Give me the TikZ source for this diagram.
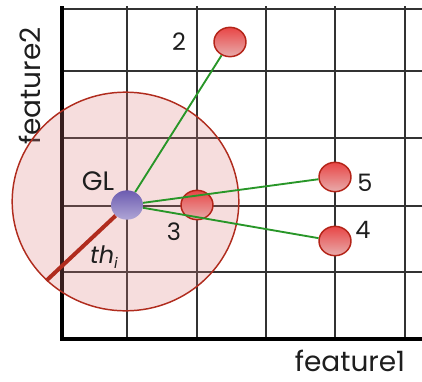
\documentclass[tikz,border=0pt]{standalone}
\usepackage{fontspec}
\setmainfont{Poppins}
\usetikzlibrary{shapes.geometric}

\definecolor{gridgray}{RGB}{50,50,50}
\definecolor{zonered}{RGB}{176,44,30}
\definecolor{zonefill}{RGB}{220,120,120}
\definecolor{linkgreen}{RGB}{40,150,40}
\definecolor{ptborder}{RGB}{180,36,24}
\definecolor{pttop}{RGB}{232,70,70}
\definecolor{ptbottom}{RGB}{232,172,172}
\definecolor{gltop}{RGB}{108,92,176}
\definecolor{glbottom}{RGB}{176,166,214}
\definecolor{txt}{RGB}{30,30,30}

\begin{document}
\begin{tikzpicture}[
    x=0.75pt, y=-0.75pt,
    point/.style={ellipse, draw=ptborder, line width=1.1pt, top color=pttop, bottom color=ptbottom, minimum width=24pt, minimum height=22pt, inner sep=0pt},
    leader/.style={ellipse, top color=gltop, bottom color=glbottom, minimum width=24pt, minimum height=22pt, inner sep=0pt},
    zone/.style={ellipse, draw=zonered, line width=1.1pt, fill=zonefill, fill opacity=0.25, minimum width=170pt, minimum height=164pt, inner sep=0pt},
    link/.style={draw=linkgreen, line width=1.4pt},
    tag/.style={font=\fontsize{18}{18}\selectfont, text=txt, inner sep=0pt}
]
\useasboundingbox (0,0) rectangle (422,382);

% Grid
\foreach \gx in {127,197,266,335,405}
  \draw[gridgray, line width=1.1pt] (\gx,6) -- (\gx,339);
\foreach \gy in {9,71,138,206,272}
  \draw[gridgray, line width=1.1pt] (62,\gy) -- (422,\gy);

% Axes
\draw[black, line width=3pt] (62,6) -- (62,339) -- (422,339);
\node[tag, font=\fontsize{21}{21}\selectfont, rotate=90] (feat2) at (30,86) {feature2};
\node[tag, font=\fontsize{21}{21}\selectfont] (feat1) at (350,361) {feature1};

% Threshold zone
\node[zone] (zone) at (125.5,201.5) {};

% Points
\node[leader] (gl) at (127,205) {};
\node[point] (p2) at (230,42) {};
\node[point] (p3) at (197,205) {};
\node[point] (p5) at (335,177) {};
\node[point] (p4) at (335,241) {};

% Labels
\node[tag, font=\fontsize{20}{20}\selectfont] (lgl) at (98,181) {GL};
\node[tag] (l2) at (179,42) {2};
\node[tag] (l3) at (174,232) {3};
\node[tag] (l5) at (365,183) {5};
\node[tag] (l4) at (363,230) {4};
\node[tag] (lth) at (104,257) {\textit{th}\raisebox{-0.35ex}{\fontsize{11}{11}\selectfont\textit{i}}};

% Links
\draw[zonered, line width=3pt] (gl) -- (zone.225);
\draw[link] (gl) -- (p2);
\draw[link] (gl) -- (p5);
\draw[link] (gl) -- (p4);

\end{tikzpicture}
\end{document}
